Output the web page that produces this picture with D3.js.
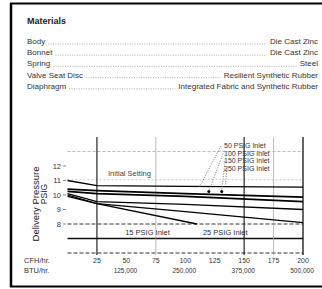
<!DOCTYPE html>
<html>
<head>
<meta charset="utf-8">
<script src="https://cdn.jsdelivr.net/npm/d3@7"></script>
<style>
body { margin: 0; background: #fff; }
svg { display: block; font-family: "Liberation Sans", Arial, sans-serif; }
</style>
</head>
<body>
<svg id="chart" width="322" height="289"></svg>
<script>
// Materials table
var materialNames = ['Body', 'Bonnet', 'Spring', 'Valve Seat Disc', 'Diaphragm'];
var materialValues = ['Die Cast Zinc', 'Die Cast Zinc', 'Steel', 'Resilient Synthetic Rubber', 'Integrated Fabric and Synthetic Rubber'];

// Axis ticks
var flowTicks = [25, 50, 75, 100, 125, 150, 175, 200];
var btuTicks = [50, 100, 150, 200];
var btuLabels = ['125,000', '250,000', '375,000', '500,000'];
var pressureTicks = [8, 9, 10, 11, 12];

// Curves: [flow CFH, delivery pressure]
var initialSetting = [[0, 11.0], [25, 10.65], [100, 10.6], [200, 10.55]];
var inlet250 = [[0, 10.4], [25, 10.3], [100, 10.1], [200, 9.85]];
var inlet150 = [[0, 10.25], [25, 10.1], [100, 9.9], [200, 9.55]];
var inlet100 = [[0, 10.1], [25, 9.55], [100, 9.35], [200, 9.0]];
var inlet25 = [[0, 10.0], [25, 9.4], [100, 8.85], [200, 8.1]];
var inlet15 = [[0, 9.9], [25, 9.4], [110, 8.0]];
var curves = [initialSetting, inlet250, inlet150, inlet100, inlet25, inlet15];

// Legend labels and where their leaders point
var inletLabels = ['50 PSIG Inlet', '100 PSIG Inlet', '150 PSIG Inlet', '250 PSIG Inlet'];
var leaderPoints = [[112, 10.55], [120, 10.25], [131, 10.25], [134, 10.6]];
var lowLabels = ['15 PSIG Inlet', '25 PSIG Inlet'];
var lowLabelFlow = [49, 115];

var svg = d3.select('#chart');

// Frame
svg.append('path').attr('d', 'M 11 3 L 11 287').attr('stroke', '#000').attr('stroke-width', 2.5);
svg.append('path').attr('d', 'M 10 3.5 L 322 3.5').attr('stroke', '#000').attr('stroke-width', 1.8);
svg.append('path').attr('d', 'M 10 286.5 L 322 286.5').attr('stroke', '#000').attr('stroke-width', 2.2);

// Materials block
svg.append('text')
    .attr('x', 27).attr('y', 24)
    .attr('font-size', '9px').attr('font-weight', 'bold').attr('fill', '#222')
    .text('Materials');

var rows = svg.append('g').selectAll('g')
    .data(materialNames)
    .enter()
    .append('g');

rows.append('text')
    .attr('class', 'mat-name')
    .attr('x', 27)
    .attr('y', function(d, i) { return 44 + i * 11.2; })
    .attr('font-size', '8px').attr('fill', '#333')
    .text(function(d) { return d; });

rows.append('text')
    .attr('class', 'mat-value')
    .attr('x', 318)
    .attr('text-anchor', 'end')
    .attr('y', function(d, i) { return 44 + i * 11.2; })
    .attr('font-size', '8px').attr('fill', '#333')
    .text(function(d, i) { return materialValues[i]; });

// dotted leaders between name and value
rows.each(function(d, i) {
    var g = d3.select(this);
    var nameW = g.select('.mat-name').node().getComputedTextLength();
    var valW = g.select('.mat-value').node().getComputedTextLength();
    var yy = 44 + i * 11.2;
    g.append('path')
        .attr('d', 'M ' + (27 + nameW + 3) + ' ' + yy + ' L ' + (318 - valW - 3) + ' ' + yy)
        .attr('stroke', '#999').attr('stroke-width', 0.8)
        .attr('stroke-dasharray', '1,1.4');
});

// Chart scales
var x = d3.scaleLinear().domain([0, 200]).range([67.5, 303]);
var y = d3.scaleLinear().domain([6, 14]).range([253, 137]);

var grid = svg.append('g');

// horizontal rules
var hLines = [
    { v: 13, stroke: '#aaa', dash: '3,2', w: 0.8 },
    { v: 11.05, stroke: '#bbb', dash: '2,2', w: 0.8 },
    { v: 8, stroke: '#333', dash: '4,2', w: 1 },
    { v: 7, stroke: '#111', dash: null, w: 1.3 },
    { v: 6, stroke: '#333', dash: '4,2', w: 1 }
];
grid.selectAll('path.h')
    .data(hLines)
    .enter()
    .append('path')
    .attr('class', 'h')
    .attr('d', function(d) { return 'M ' + x(0) + ' ' + y(d.v) + ' L ' + x(200) + ' ' + y(d.v); })
    .attr('stroke', function(d) { return d.stroke; })
    .attr('stroke-width', function(d) { return d.w; })
    .attr('stroke-dasharray', function(d) { return d.dash; });

// vertical rules
var vLines = [
    { v: 25, stroke: '#111', w: 1.1 },
    { v: 75, stroke: '#aaa', w: 0.8 },
    { v: 150, stroke: '#111', w: 1.1 },
    { v: 175, stroke: '#aaa', w: 0.8 },
    { v: 200, stroke: '#111', w: 1.3 }
];
grid.selectAll('path.v')
    .data(vLines)
    .enter()
    .append('path')
    .attr('class', 'v')
    .attr('d', function(d) { return 'M ' + x(d.v) + ' ' + y(14) + ' L ' + x(d.v) + ' ' + (y(6) + 2); })
    .attr('stroke', function(d) { return d.stroke; })
    .attr('stroke-width', function(d) { return d.w; });

// Curves
var line = d3.line()
    .x(function(d) { return x(d[0]); })
    .y(function(d) { return y(d[1]); });

svg.append('g')
    .selectAll('path')
    .data(curves)
    .enter()
    .append('path')
    .attr('fill', 'none')
    .attr('stroke', '#000')
    .attr('stroke-width', function(d, i) { return i === 1 || i === 2 ? 1.8 : 1.3; })
    .attr('d', line);

// Y axis labels and ticks
svg.append('g')
    .selectAll('text')
    .data(pressureTicks)
    .enter()
    .append('text')
    .attr('x', 61)
    .attr('y', function(d) { return y(d) + 2.5; })
    .attr('text-anchor', 'end')
    .attr('font-size', '7.5px').attr('fill', '#333')
    .text(function(d) { return d; });

svg.append('g')
    .selectAll('path')
    .data(pressureTicks)
    .enter()
    .append('path')
    .attr('d', function(d) { return 'M 63 ' + y(d) + ' L 66 ' + y(d); })
    .attr('stroke', '#666').attr('stroke-width', 0.8);

// Y axis title
svg.append('text')
    .attr('transform', 'translate(39,204) rotate(-90)')
    .attr('text-anchor', 'middle')
    .attr('font-size', '9.5px').attr('fill', '#222')
    .text('Delivery Pressure');
svg.append('text')
    .attr('transform', 'translate(47,194) rotate(-90)')
    .attr('text-anchor', 'middle')
    .attr('font-size', '8.5px').attr('fill', '#222')
    .text('PSIG');

// X rows
svg.append('text').attr('x', 24).attr('y', 263)
    .attr('font-size', '7.5px').attr('fill', '#333').text('CFH/hr.');
svg.append('text').attr('x', 24).attr('y', 273)
    .attr('font-size', '7.5px').attr('fill', '#333').text('BTU/hr.');

svg.append('g')
    .selectAll('text')
    .data(flowTicks)
    .enter()
    .append('text')
    .attr('x', function(d) { return x(d); })
    .attr('y', 263)
    .attr('text-anchor', 'middle')
    .attr('font-size', '7px').attr('fill', '#333')
    .text(function(d) { return d; });

svg.append('g')
    .selectAll('text')
    .data(btuTicks)
    .enter()
    .append('text')
    .attr('x', function(d) { return x(d) - 1; })
    .attr('y', 273)
    .attr('text-anchor', 'middle')
    .attr('font-size', '6.5px').attr('fill', '#333')
    .text(function(d, i) { return btuLabels[i]; });

// Annotations
svg.append('text').attr('x', 108).attr('y', 176)
    .attr('font-size', '7.5px').attr('fill', '#444').text('Initial Setting');

svg.append('g')
    .selectAll('text')
    .data(inletLabels)
    .enter()
    .append('text')
    .attr('x', 224)
    .attr('y', function(d, i) { return 148 + i * 7.5; })
    .attr('font-size', '7px').attr('fill', '#333')
    .text(function(d) { return d; });

svg.append('g')
    .selectAll('path')
    .data(leaderPoints)
    .enter()
    .append('path')
    .attr('d', function(d, i) {
        return 'M ' + (221 + i * 2) + ' ' + (146 + i * 7.5) + ' L ' + x(d[0]) + ' ' + y(d[1]);
    })
    .attr('stroke', '#555').attr('stroke-width', 0.8)
    .attr('stroke-dasharray', '1,1.5');

svg.append('g')
    .selectAll('circle')
    .data(leaderPoints.slice(1, 3))
    .enter()
    .append('circle')
    .attr('cx', function(d) { return x(d[0]); })
    .attr('cy', function(d) { return y(d[1]); })
    .attr('r', 1.5)
    .attr('fill', '#000');

svg.append('g')
    .selectAll('text')
    .data(lowLabels)
    .enter()
    .append('text')
    .attr('x', function(d, i) { return x(lowLabelFlow[i]); })
    .attr('y', 235)
    .attr('font-size', '7.5px').attr('fill', '#333')
    .text(function(d) { return d; });
</script>
</body>
</html>
